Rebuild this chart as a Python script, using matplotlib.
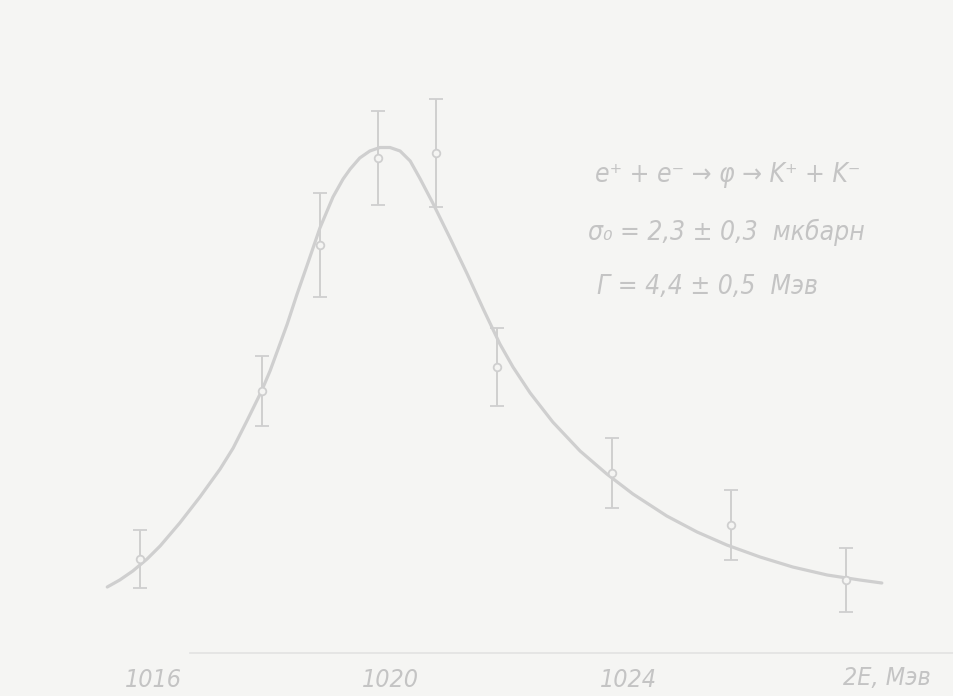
import matplotlib
matplotlib.use("Agg")
import matplotlib.pyplot as plt

# ---- data (y in arbitrary units) ----
energy = [1015.78, 1017.84, 1018.81, 1019.79, 1020.76, 1021.79, 1023.73, 1025.73, 1027.67]
sigma = [0.47, 1.31, 2.04, 2.475, 2.50, 1.43, 0.90, 0.64, 0.365]
sigma_err = [0.145, 0.175, 0.26, 0.235, 0.27, 0.195, 0.175, 0.175, 0.16]

fit_energy = [1015.23, 1015.44, 1015.66, 1015.90, 1016.12, 1016.45, 1016.79, 1017.13,
              1017.35, 1017.58, 1017.82, 1017.97, 1018.10, 1018.26, 1018.42, 1018.59,
              1018.81, 1019.03, 1019.20, 1019.32, 1019.48, 1019.65, 1019.82, 1019.99,
              1020.16, 1020.33, 1020.49, 1020.71, 1021.00, 1021.29, 1021.56, 1021.84,
              1022.06, 1022.35, 1022.73, 1023.19, 1023.64, 1024.08, 1024.65, 1025.16,
              1025.66, 1026.22, 1026.77, 1027.35, 1027.90, 1028.27]
fit_sigma = [0.33, 0.365, 0.41, 0.47, 0.535, 0.65, 0.78, 0.92,
             1.025, 1.16, 1.305, 1.41, 1.515, 1.645, 1.79, 1.935,
             2.125, 2.28, 2.37, 2.42, 2.475, 2.51, 2.5275, 2.5275,
             2.51, 2.46, 2.375, 2.25, 2.075, 1.895, 1.72, 1.545,
             1.43, 1.30, 1.155, 1.01, 0.895, 0.795, 0.685, 0.605,
             0.54, 0.48, 0.43, 0.39, 0.365, 0.35]

tick_values = [1016, 1020, 1024]
tick_labels = ["1016", "1020", "1024"]
axis_label = "2E, Мэв"
ann_lines = ["e⁺ + e⁻ → φ → K⁺ + K⁻",
             "σ₀ = 2,3 ± 0,3  мкбарн",
             "Γ = 4,4 ± 0,5  Мэв"]

# ---- style ----
bg = "#f5f5f3"
ink = "#cfcfcf"
txt = "#c4c4c4"

W, H = 954, 696
fig = plt.figure(figsize=(W / 100, H / 100), dpi=100, facecolor=bg)

def e_of_px(px):
    return 1016 + (px - 153) / 59.4

ax_left_px, ax_right_px = 60, 954
ax_bottom_px, ax_top_px = 653, 40
ax = fig.add_axes([ax_left_px / W, (H - ax_bottom_px) / H,
                   (ax_right_px - ax_left_px) / W, (ax_bottom_px - ax_top_px) / H])
ax.set_facecolor(bg)
ax.set_xlim(e_of_px(ax_left_px), e_of_px(ax_right_px))
ax.set_ylim(0, (ax_bottom_px - ax_top_px) / 200)

ax.plot(fit_energy, fit_sigma, color=ink, lw=2.3, solid_capstyle="round",
        solid_joinstyle="round", zorder=2)
ax.errorbar(energy, sigma, yerr=sigma_err, fmt="o", ms=5.5, mfc=bg, mec=ink, mew=1.3,
            ecolor=ink, elinewidth=1.4, capsize=5, capthick=1.3, zorder=3)

for s in ["top", "left", "right"]:
    ax.spines[s].set_visible(False)
ax.spines["bottom"].set_color("#e2e2e2")
ax.spines["bottom"].set_linewidth(1.2)
ax.spines["bottom"].set_bounds(e_of_px(190), e_of_px(954))
ax.set_yticks([])
ax.set_xticks(tick_values)
ax.set_xticklabels(tick_labels, fontsize=18, color=txt, style="italic",
                   fontstretch="condensed")
ax.tick_params(axis="x", length=0, pad=11)

ax.text(e_of_px(887), -0.125, axis_label, fontsize=18, color=txt, style="italic",
        fontstretch="condensed", ha="center", va="center")

ys = [175, 232, 287]
xs = [595, 588, 597]
for line, yp, xp in zip(ann_lines, ys, xs):
    ax.text(e_of_px(xp), (ax_bottom_px - yp) / 200, line, fontsize=19, color=txt,
            style="italic", fontstretch="condensed", ha="left", va="center")

fig.savefig("out.png", dpi=100, facecolor=bg)
